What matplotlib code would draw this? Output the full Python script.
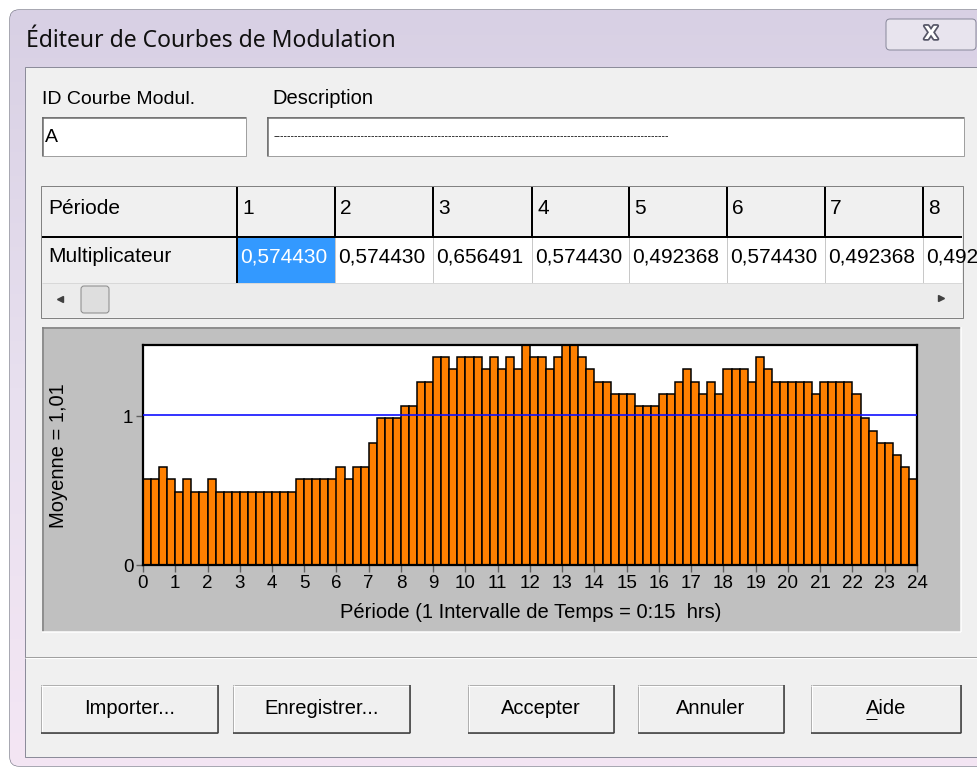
import matplotlib.pyplot as plt
import matplotlib.patches as mpatches
import matplotlib.patheffects as pe
from matplotlib.transforms import Bbox, TransformedBbox
import numpy as np

W, H = 978, 767

# multiplicateur par intervalle de 15 min (96 valeurs)
multiplicateurs = [
    0.574430, 0.574430, 0.656491, 0.574430, 0.492368, 0.574430, 0.492368, 0.492368,
    0.574430, 0.492368, 0.492368, 0.492368, 0.492368, 0.492368, 0.492368, 0.492368,
    0.492368, 0.492368, 0.492368, 0.574430, 0.574430, 0.574430, 0.574430, 0.574430,
    0.656491, 0.574430, 0.656491, 0.656491, 0.820614, 0.984737, 0.984737, 0.984737,
    1.066798, 1.066798, 1.230921, 1.230921, 1.395044, 1.395044, 1.312982, 1.395044,
    1.395044, 1.395044, 1.312982, 1.395044, 1.312982, 1.395044, 1.312982, 1.477105,
    1.395044, 1.395044, 1.312982, 1.395044, 1.477105, 1.477105, 1.395044, 1.312982,
    1.230921, 1.230921, 1.148860, 1.148860, 1.148860, 1.066798, 1.066798, 1.066798,
    1.148860, 1.148860, 1.230921, 1.312982, 1.230921, 1.148860, 1.230921, 1.148860,
    1.312982, 1.312982, 1.312982, 1.230921, 1.395044, 1.312982, 1.230921, 1.230921,
    1.230921, 1.230921, 1.230921, 1.148860, 1.230921, 1.230921, 1.230921, 1.230921,
    1.148860, 0.984737, 0.902675, 0.820614, 0.820614, 0.738553, 0.656491, 0.574430,
]
heures = list(range(25))
yticks = [0, 1]
id_courbe = "A"
description = "-" * 113
titre = "Éditeur de Courbes de Modulation"
xlabel = "Période (1 Intervalle de Temps = 0:15  hrs)"
boutons = ["Importer...", "Enregistrer...", "Accepter", "Annuler", "Aide"]

periodes = np.arange(len(multiplicateurs)) * 0.25
moyenne = np.mean(multiplicateurs)

UI = ['Liberation Sans Narrow', 'Liberation Sans', 'DejaVu Sans']
TITLE_FONT = ['Noto Sans', 'DejaVu Sans']
PX = 0.72  # 1 pixel en points a 100 dpi

fig = plt.figure(figsize=(W / 100, H / 100), dpi=100, facecolor='white')
bg = fig.add_axes([0, 0, 1, 1])
bg.set_xlim(0, W)
bg.set_ylim(H, 0)
bg.axis('off')


def rect(x0, y0, x1, y1, fc, ec='none', lw=1, z=1):
    bg.add_patch(mpatches.Rectangle((x0, y0), x1 - x0, y1 - y0, fc=fc, ec=ec,
                                    lw=lw * PX, zorder=z))


def line(x0, y0, x1, y1, color, lw=1, z=3):
    bg.plot([x0, x1], [y0, y1], color=color, lw=lw * PX, zorder=z,
            solid_capstyle='butt')


def txt(x, y, s, size=12, ha='left', color='black', family=UI, **kw):
    return bg.text(x, y, s, fontsize=size, ha=ha, va='center', color=color,
                   family=family, zorder=6, **kw)


# cadre de la fenetre
cadre = mpatches.FancyBboxPatch((10, 10), 1000, 756,
                                boxstyle='round,pad=0,rounding_size=9',
                                fc='#e4dcec', ec='#707080', lw=1.2 * PX, zorder=0)
bg.add_patch(cadre)
grad = np.linspace(0, 1, 256)[:, None]
cmap = plt.matplotlib.colors.LinearSegmentedColormap.from_list(
    'cadre', ['#d8d0e4', '#e8e0ef', '#f4e6f4'])
im = bg.imshow(grad, extent=(10, 1000, 766, 10), cmap=cmap, aspect='auto', zorder=0.5)
im.set_clip_path(cadre)
txt(26, 41, titre, size=16.5, family=TITLE_FONT, color='#101010')

# bouton fermer
fermer = mpatches.FancyBboxPatch((886, 19), 90, 31, boxstyle='round,pad=0,rounding_size=4',
                                 fc='#e8e4ee', ec='#8a8a9c', lw=PX, zorder=2)
bg.add_patch(fermer)
txt(931, 34, "X", size=13, ha='center', color='white', fontweight='bold',
    family=['DejaVu Sans'],
    path_effects=[pe.withStroke(linewidth=2.5, foreground='#555566')])

# zone client
rect(25, 67, 990, 757, '#f0f0f0', ec='#8c8c9a', z=1)

# champs texte
txt(42, 99, "ID Courbe Modul.", size=14)
txt(272, 99, "Description", size=14.5)
for x0, x1 in [(42, 246), (267, 964)]:
    rect(x0, 117, x1, 156, 'white', ec='#a0a0a0', z=2)
    line(x0, 117.5, x1, 117.5, '#696969', 1.5)
    line(x0 + 0.5, 117, x0 + 0.5, 156, '#696969', 1.5)
txt(45, 137, id_courbe, size=14)
txt(274, 136, description, size=7.5)

# tableau des multiplicateurs
bords = [42, 237, 335, 433, 532, 629, 727, 825, 923, 1010]
rect(41, 186, 963, 318, '#f0f0f0', ec='#828282', z=2)
rect(42, 187, 962, 237, '#f0f0f0', z=2)
rect(237, 237, 962, 283, 'white', z=2)
rect(237, 237, 335, 283, '#3399ff', z=2.5)
txt(48, 208, "Période", size=15)
txt(48, 257, "Multiplicateur", size=15)
for i in range(len(bords) - 2):
    x0 = bords[i + 1]
    zone = TransformedBbox(Bbox.from_extents(x0, 187, 961, 283), bg.transData)
    t = txt(x0 + 5, 208, str(i + 1), size=15)
    t.set_clip_box(zone)
    valeur = f"{multiplicateurs[i]:.6f}".replace('.', ',')
    t = txt(x0 + 3, 257, valeur, size=15, color='white' if i == 0 else 'black')
    t.set_clip_box(zone)
for x in bords[2:-1]:
    line(x, 237, x, 283, '#c8c8c8', 1)
    line(x, 187, x, 237, 'black', 2)
line(237, 187, 237, 283, 'black', 2)
line(42, 237, 962, 237, 'black', 2)
line(42, 283, 962, 283, '#d8d8d8', 1)
rect(42, 284, 962, 317, '#ececec', z=2)
bg.add_patch(mpatches.FancyBboxPatch((81, 286), 28, 27, boxstyle='round,pad=0,rounding_size=3',
                                     fc='#dedede', ec='#8a8a8a', lw=PX, zorder=3))
bg.plot([60], [299], marker='<', ms=4, color='#404040', zorder=4)
bg.plot([941], [298], marker='>', ms=4, color='#404040', zorder=4)

# panneau du graphique
rect(42, 327, 961, 632, '#c0c0c0', z=2)
line(42, 327.5, 961, 327.5, '#808080', 1.5)
line(42.5, 327, 42.5, 632, '#808080', 1.5)
line(42, 631.5, 961, 631.5, 'white', 1.5)
line(960.5, 327, 960.5, 632, 'white', 1.5)

ax = fig.add_axes([143 / W, 1 - 565 / H, 774 / W, 220 / H])
ax.set_facecolor('white')
ax.bar(periodes, multiplicateurs, width=0.25, align='edge', color='#ff8000',
       edgecolor='black', linewidth=1.1, zorder=2)
ax.axhline(moyenne, color='#1010ff', lw=1.2, zorder=3)
ax.set_xlim(0, 24)
ax.set_ylim(0, max(multiplicateurs))
ax.set_xticks(heures)
ax.set_xticklabels([str(h) for h in heures], family=UI, fontsize=13.5)
ax.set_yticks(yticks)
ax.set_yticklabels([str(v) for v in yticks], family=UI, fontsize=13.5)
ax.tick_params(direction='out', length=5, width=1, color='#606060', pad=2)
for sp in ax.spines.values():
    sp.set_linewidth(1.6)
    sp.set_color('black')
txt(531, 612, xlabel, size=14.5, ha='center')
txt(58, 456, f"Moyenne = {moyenne:.2f}".replace('.', ','), size=14.5, ha='center',
    rotation=90)

# separateur
line(25, 656.5, 990, 656.5, '#a0a0a0', 1)
line(25, 657.5, 990, 657.5, 'white', 1)

# boutons
positions = [(41, 218), (233, 410), (468, 614), (638, 784), (811, 961)]
for (x0, x1), lab in zip(positions, boutons):
    rect(x0, 685, x1, 733, '#f0f0f0', ec='#b0b0b0', z=2)
    line(x0, 685.5, x1, 685.5, 'white', 1)
    line(x0 + 0.5, 685, x0 + 0.5, 733, 'white', 1)
    line(x0, 732.5, x1, 732.5, '#404040', 1.6)
    line(x1 - 0.5, 685, x1 - 0.5, 733, '#404040', 1.6)
    txt((x0 + x1) / 2, 708, lab, size=14.5, ha='center')
line(866, 719, 877, 719, 'black', 1)

fig.savefig('out.png', dpi=100, facecolor='white')
